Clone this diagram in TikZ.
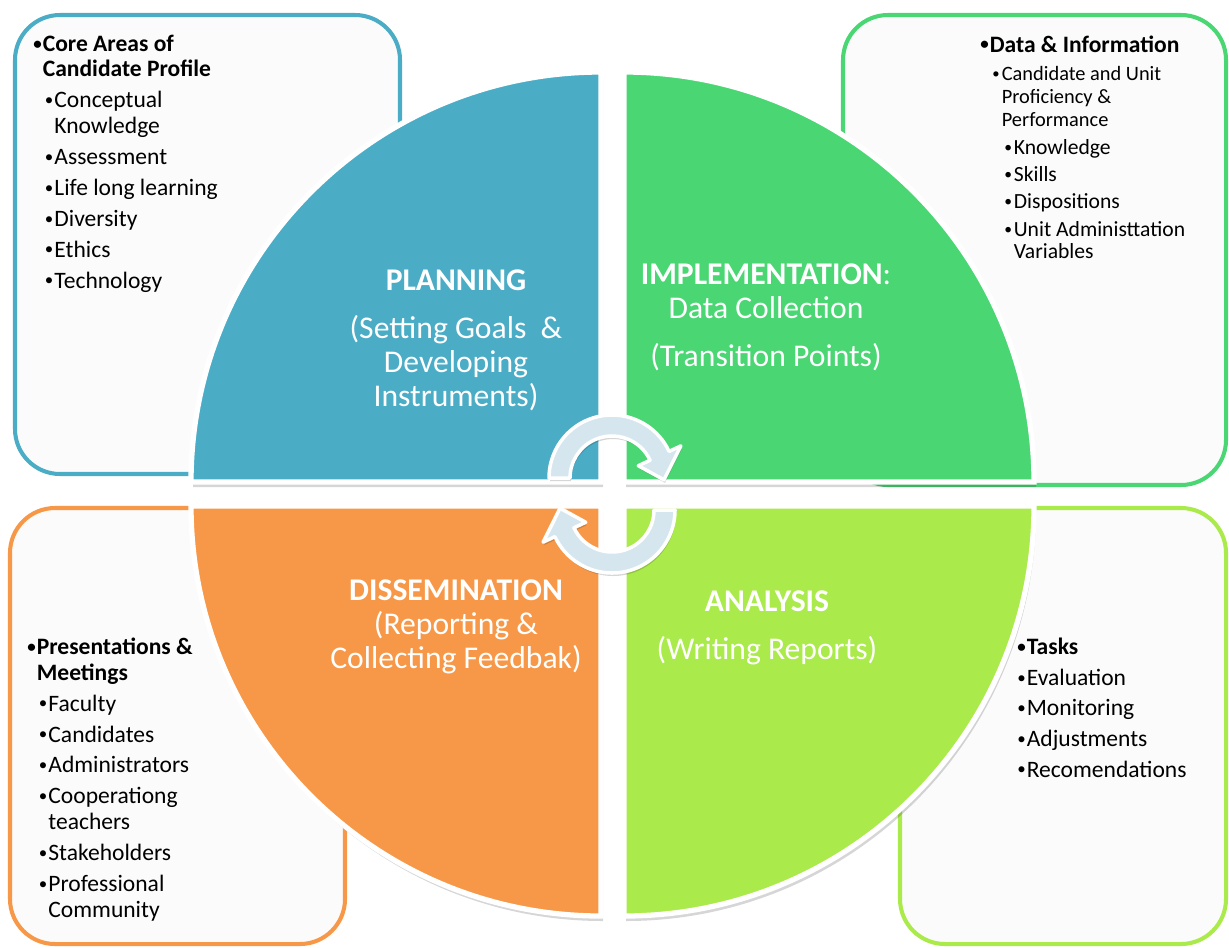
\documentclass[tikz,border=0pt]{standalone}
\usepackage{fontspec}
\setmainfont{Carlito}
\usepackage{xcolor}
\definecolor{cPlan}{HTML}{4BACC6}
\definecolor{cImpl}{HTML}{49D673}
\definecolor{cAnal}{HTML}{AAEA4A}
\definecolor{cDiss}{HTML}{F79848}
\definecolor{cCycle}{HTML}{D6E6EE}
\definecolor{cPanel}{HTML}{FBFBFB}
\usepackage{tikz}
\usetikzlibrary{positioning}
\newcommand{\bul}{\makebox[5.4pt][l]{\raisebox{0.09em}{\scalebox{0.72}{•}}}}
\newcommand{\hang}{\hspace*{5.4pt}}
\newcommand{\ind}{\hspace*{6.6pt}}
\tikzset{
  box-panel/.style={draw=#1,line width=2.3pt,fill=cPanel,rounded corners=0.9cm},
  box-quad/.style={fill=#1,draw=white,line width=3pt},
  box-shadow/.style={fill=black,opacity=0.16},
  arrow-cycle/.style={fill=cCycle,draw=white,line width=2pt,line join=round},
  % multi-line nodes: base = baseline of the last line
  list-text/.style={anchor=base west,inner sep=0pt,align=left,
    font=\fontsize{13.4}{14.6}\selectfont},
  phase-text/.style={anchor=base,inner sep=0pt,align=center,text=white,
    font=\fontsize{18}{19.3}\selectfont},
}

\begin{document}
\begin{tikzpicture}[x=0.02cm,y=0.02cm]
  \useasboundingbox[fill=white] (0,0) rectangle (1229,-947);
  % side panels, behind the cycle
  \draw[box-panel=cPlan] (15,-15) rectangle (400,-474);
  \draw[box-panel=cImpl] (843,-15) rectangle (1226,-485);
  \draw[box-panel=cDiss] (10,-508) rectangle (345,-944);
  \draw[box-panel=cAnal] (900,-508) rectangle (1226,-944);
  % four quarters of the cycle
  \begin{scope}[shift={(2,-5)}]
    \foreach \cx/\cy/\sa in {601/-482/180,624/-482/90,624/-506/0,601/-506/-90}
      \fill[box-shadow] (\cx,\cy) -- ++(\sa:410) arc[start angle=\sa,delta angle=-90,radius=410] -- cycle;
  \end{scope}
  \foreach \cx/\cy/\sa/\col in {601/-482/180/cPlan,624/-482/90/cImpl,624/-506/0/cAnal,601/-506/-90/cDiss}
    \draw[box-quad=\col] (\cx,\cy) -- ++(\sa:410) arc[start angle=\sa,delta angle=-90,radius=410] -- cycle;
  % turning arrows in the middle
  \foreach \cy/\rot in {-478/0,-510/180}{
    \begin{scope}[shift={(613,\cy-3)},rotate=\rot]
      \fill[box-shadow] (180:63) arc[start angle=180,end angle=25,radius=63] -- (25:76) -- (-2:52)
        -- (25:29) -- (25:42) arc[start angle=25,end angle=180,radius=42] -- cycle;
    \end{scope}
    \begin{scope}[shift={(612,\cy)},rotate=\rot]
      \draw[arrow-cycle] (180:63) arc[start angle=180,end angle=25,radius=63] -- (25:76) -- (-2:52)
        -- (25:29) -- (25:42) arc[start angle=25,end angle=180,radius=42] -- cycle;
    \end{scope}
  }
  % phase labels
  \node[phase-text] (plan) at (456,-406) {\textbf{PLANNING}\\[8pt] (Setting Goals~ \&\\ Developing\\ Instruments)};
  \node[phase-text] (impl) at (766,-366) {\textbf{IMPLEMENTATION}:\\ Data Collection\\[8pt] (Transition Points)};
  \node[phase-text] (diss) at (456,-668) {\textbf{DISSEMINATION}\\ (Reporting \&\\ Collecting Feedbak)};
  \node[phase-text] (anal) at (767,-659) {\textbf{ANALYSIS}\\[8pt] (Writing Reports)};
  % panel lists
  \node[list-text] (core) at (33,-288) {\textbf{\bul Core Areas of}\\
    \textbf{\hang Candidate Profile}\\[3pt]
    \ind\bul Conceptual\\
    \ind\hang Knowledge\\[3pt]
    \ind\bul Assessment\\[3pt]
    \ind\bul Life long learning\\[3pt]
    \ind\bul Diversity\\[3pt]
    \ind\bul Ethics\\[3pt]
    \ind\bul Technology};
  \node[list-text] (data) at (980,-52) {\textbf{\bul Data \& Information}};
  \node[list-text,font=\fontsize{11.6}{13}\selectfont] (data-unit) at (992,-126)
    {\bul Candidate and Unit\\ \hang Proficiency \&\\ \hang Performance};
  \node[list-text,font=\fontsize{12.3}{15.5}\selectfont] (data-items) at (1004,-258)
    {\bul Knowledge\\ \bul Skills\\ \bul Dispositions\\ \bul Unit Administtation\\[-3pt] \hang Variables};
  \node[list-text] (meet) at (27,-917) {\textbf{\bul Presentations \&}\\
    \textbf{\hang Meetings}\\[3pt]
    \ind\bul Faculty\\[3pt]
    \ind\bul Candidates\\[3pt]
    \ind\bul Administrators\\[3pt]
    \ind\bul Cooperationg\\
    \ind\hang teachers\\[3pt]
    \ind\bul Stakeholders\\[3pt]
    \ind\bul Professional\\
    \ind\hang Community};
  \node[list-text,font=\fontsize{13.4}{17.4}\selectfont] (tasks) at (1017,-777)
    {\textbf{\bul Tasks}\\ \bul Evaluation\\ \bul Monitoring\\ \bul Adjustments\\ \bul Recomendations};
\end{tikzpicture}
\end{document}
